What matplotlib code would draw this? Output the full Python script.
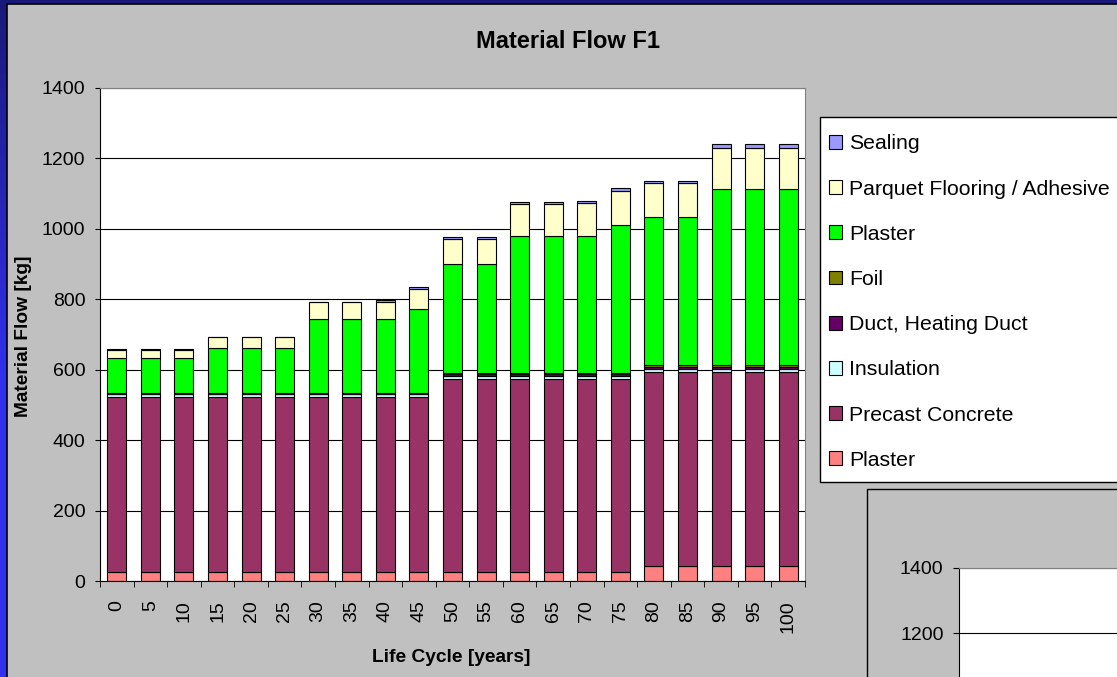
import numpy as np
import matplotlib
matplotlib.use("Agg")
import matplotlib.pyplot as plt
from matplotlib.patches import Rectangle, Patch

plt.rcParams['font.family'] = ['Liberation Sans', 'DejaVu Sans']

# data (kg per year of the life cycle)
years = [0, 5, 10, 15, 20, 25, 30, 35, 40, 45, 50, 55, 60, 65, 70, 75, 80, 85, 90, 95, 100]
plaster_base = [25] * 16 + [43] * 5
precast = [498] * 10 + [548] * 6 + [551] * 5
insulation = [7] * 10 + [10] * 6 + [8] * 5
duct = [2] * 10 + [5] * 6 + [5] * 5
foil = [1] * 10 + [2] * 6 + [5] * 5
plaster_top = [100, 100, 100, 128, 128, 128, 211, 211, 211, 240, 310, 310,
               390, 390, 390, 420, 421, 421, 501, 501, 501]
parquet = [23, 23, 23, 31, 31, 31, 47, 47, 48, 56, 71, 71,
           92, 92, 93, 97, 97, 97, 116, 116, 116]
sealing = [2, 2, 2, 2, 2, 2, 2, 2, 6, 7, 7, 7,
           3, 3, 7, 10, 7, 7, 11, 11, 11]

series = [
    ("Plaster", plaster_base, "#FF8080"),
    ("Precast Concrete", precast, "#993366"),
    ("Insulation", insulation, "#CCFFFF"),
    ("Duct, Heating Duct", duct, "#660066"),
    ("Foil", foil, "#808000"),
    ("Plaster", plaster_top, "#00FF00"),
    ("Parquet Flooring / Adhesive", parquet, "#FFFFCC"),
    ("Sealing", sealing, "#9999FF"),
]

W, H = 1117, 677
fig = plt.figure(figsize=(W / 100, H / 100), dpi=100)


def fx(px):
    return px / W


def fy(py):
    return 1 - py / H


# blue slide background + grey chart area
bg = fig.add_axes([0, 0, 1, 1], zorder=-10)
t = np.clip(np.linspace(0, 1, 256) / 0.55, 0, 1)[:, None, None]
top_c = np.array([0.10, 0.10, 0.48])
mid_c = np.array([0.19, 0.19, 0.93])
grad = np.repeat(top_c * (1 - t) + mid_c * t, 2, axis=1)
bg.imshow(grad, aspect='auto', extent=[0, 1, 0, 1])
bg.set_xlim(0, 1)
bg.set_ylim(0, 1)
bg.axis('off')
bg.add_patch(Rectangle((fx(7), -0.5), 1.5, fy(4) + 0.5,
                       facecolor='#C0C0C0', edgecolor='black', lw=1.2))
# legend box (runs past the right edge)
bg.add_patch(Rectangle((fx(820), fy(482)), 0.5, fy(117) - fy(482),
                       facecolor='white', edgecolor='black', lw=1.0))
# frame of the second chart peeking in at the bottom right
bg.add_patch(Rectangle((fx(866.7), -0.5), 1.0, fy(489.3) + 0.5,
                       facecolor='#C0C0C0', edgecolor='black', lw=1.0))

ax = fig.add_axes([fx(100), fy(581), fx(805) - fx(100), fy(88) - fy(581)])
ax.set_facecolor('white')

x = np.arange(len(years))
bottom = np.zeros(len(years))
for name, vals, col in series:
    ax.bar(x, vals, 0.57, bottom=bottom, color=col, edgecolor='black', lw=0.8)
    bottom += np.array(vals)

ax.set_xlim(-0.5, len(years) - 0.5)
ax.set_xticks(x)
ax.set_xticklabels(years, rotation=90)
ax.set_xticks(np.arange(-0.5, len(years), 1), minor=True)
ax.tick_params(axis='x', which='major', length=0, pad=14, labelsize=14)
ax.tick_params(axis='x', which='minor', length=4, direction='out')
ax.set_yticks(range(0, 1401, 200))
ax.set_ylim(0, 1400)
ax.tick_params(axis='y', length=3.6, pad=7, labelsize=14)
ax.yaxis.grid(True, color='black', lw=0.8)
ax.set_axisbelow(True)
for s in ['top', 'right']:
    ax.spines[s].set_color('#808080')
ax.spines['left'].set_color('black')
ax.spines['bottom'].set_color('black')

fig.text(fx(568), fy(48), 'Material Flow F1', ha='center', va='baseline',
         fontsize=17, fontweight='bold')
fig.text(fx(451), fy(661.7), 'Life Cycle [years]', ha='center', va='baseline',
         fontsize=13.8, fontweight='bold')
fig.text(fx(24), fy(336), 'Material Flow [kg]', rotation=90, ha='center',
         va='center', fontsize=13.8, fontweight='bold')

handles = [Patch(facecolor=c, edgecolor='black', lw=0.8) for _, _, c in series][::-1]
labels = [n for n, _, _ in series][::-1]
fig.legend(handles, labels, loc='upper left', bbox_to_anchor=(fx(829), fy(134.3)),
           bbox_transform=fig.transFigure, borderaxespad=0, frameon=False,
           fontsize=15.3, borderpad=0, handlelength=0.62, handleheight=0.62,
           handletextpad=0.33, labelspacing=1.233)

# second chart, only its top-left corner is visible
px_per_kg = 65 / 200
ax2_top, ax2_bot = 568, 760
ax2 = fig.add_axes([fx(959.3), fy(ax2_bot), 0.3, fy(ax2_top) - fy(ax2_bot)])
ax2.set_facecolor('white')
ax2.set_yticks([1200, 1400])
ax2.set_ylim(1400 - (ax2_bot - ax2_top) / px_per_kg, 1400)
ax2.set_xticks([])
ax2.tick_params(axis='y', length=4.3, pad=7, labelsize=14)
ax2.yaxis.grid(True, color='black', lw=0.8)
ax2.spines['top'].set_color('#808080')
ax2.spines['left'].set_color('black')

fig.savefig('out.png', dpi=100)
